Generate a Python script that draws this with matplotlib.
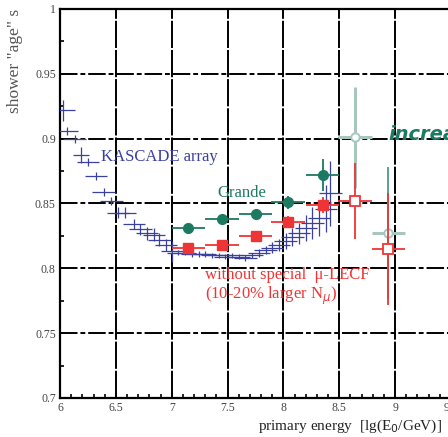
import numpy as np
import matplotlib
matplotlib.use("Agg")
import matplotlib.pyplot as plt

# KASCADE array
kas_x = [6.03, 6.06, 6.13, 6.25, 6.32, 6.39, 6.46, 6.52, 6.58, 6.66, 6.72, 6.78,
         6.84, 6.89, 6.95, 7.00, 7.06, 7.12, 7.18, 7.24, 7.30, 7.36, 7.42, 7.48,
         7.54, 7.60, 7.66, 7.72, 7.78, 7.84, 7.90, 7.96, 8.02, 8.08, 8.14, 8.20,
         8.26, 8.32, 8.38, 8.42]
kas_y = [0.922, 0.906, 0.900, 0.882, 0.871, 0.859, 0.852, 0.843, 0.843, 0.834, 0.830, 0.827,
         0.826, 0.822, 0.818, 0.813, 0.812, 0.812, 0.811, 0.811, 0.811, 0.810, 0.810, 0.809,
         0.810, 0.809, 0.808, 0.810, 0.812, 0.814, 0.816, 0.818, 0.821, 0.824, 0.827, 0.831,
         0.835, 0.839, 0.846, 0.858]
kas_yerr = [0.008, 0.003, 0.003, 0.003, 0.003, 0.003, 0.003, 0.004, 0.004, 0.004, 0.004, 0.005,
            0.005, 0.005, 0.005, 0.008, 0.002, 0.002, 0.002, 0.002, 0.002, 0.002, 0.002, 0.002,
            0.002, 0.002, 0.002, 0.002, 0.003, 0.003, 0.004, 0.005, 0.006, 0.007, 0.008, 0.010,
            0.012, 0.014, 0.018, 0.025]

# Grande
gr_x = [7.15, 7.45, 7.75, 8.04, 8.35]
gr_y = [0.831, 0.838, 0.842, 0.851, 0.872]
gr_yerr = [0.002, 0.002, 0.003, 0.005, 0.012]

# without special mu-LECF
lecf_x = [7.15, 7.45, 7.75, 8.04, 8.35]
lecf_y = [0.816, 0.818, 0.825, 0.836, 0.849]
lecf_yerr = [0.002, 0.002, 0.003, 0.004, 0.006]

# open (low statistics) points
gr_open_x = [8.64, 8.94]
gr_open_y = [0.901, 0.827]
gr_open_yerr = [0.039, 0.051]
lecf_open_x = [8.64, 8.94]
lecf_open_y = [0.852, 0.815]
lecf_open_yerr = [0.029, 0.043]

xticks = [6, 6.5, 7, 7.5, 8, 8.5, 9, 9.5]
xticklabels = ["6", "6.5", "7", "7.5", "8", "8.5", "9", "9.5"]
yticks = [0.7, 0.75, 0.8, 0.85, 0.9, 0.95, 1]
yticklabels = ["0.7", "0.75", "0.8", "0.85", "0.9", "0.95", "1"]

blue = "#3a40a0"
teal = "#1d7a62"
red = "#ee3535"
faded = "#a8c6be"

plt.rcParams["font.family"] = ["Liberation Serif", "DejaVu Serif"]

fig = plt.figure(figsize=(4.48, 4.37), dpi=100)
ax = fig.add_axes([60 / 448, 1 - 398 / 437, 391 / 448, 389 / 437])
ax.set_xlim(6, 9.5)
ax.set_ylim(0.7, 1.0)

# grid
for xv in xticks[1:-1]:
    ax.axvline(xv, color="black", lw=1.4, ls=(0, (14, 1)), zorder=1)
for yv in yticks[1:-1]:
    ax.axhline(yv, color="black", lw=1.4, ls=(0, (9, 1.5, 2.5, 1.5)), zorder=1)

kas = ax.errorbar(kas_x, kas_y, xerr=0.1, yerr=kas_yerr, fmt="none", ecolor=blue,
                  elinewidth=0.9, zorder=3)
ax.errorbar(gr_open_x[:1], gr_open_y[:1], xerr=0.15, yerr=gr_open_yerr[:1], fmt="o",
            ms=6, mfc="white", mec=faded, mew=1.4, ecolor=faded, elinewidth=2.2, zorder=2)
ax.errorbar(gr_open_x[1:], gr_open_y[1:], xerr=0.15, fmt="o",
            ms=6, mfc="white", mec=faded, mew=1.4, ecolor=faded, elinewidth=2.2, zorder=2)
ax.errorbar(gr_open_x[1:], gr_open_y[1:], yerr=gr_open_yerr[1:], fmt="none",
            ecolor="#4a9a85", elinewidth=1.3, zorder=2)
ax.errorbar(lecf_open_x, lecf_open_y, xerr=0.15, yerr=lecf_open_yerr, fmt="s",
            ms=6.5, mfc="white", mec=red, mew=1.3, ecolor=red, elinewidth=1.3, zorder=4)
ax.errorbar(gr_x, gr_y, xerr=0.15, yerr=gr_yerr, fmt="o", ms=7, color=teal,
            elinewidth=1.3, zorder=5)
ax.errorbar(lecf_x, lecf_y, xerr=0.15, yerr=lecf_yerr, fmt="s", ms=7, color=red,
            elinewidth=1.3, zorder=5)

# annotations
ax.legend([kas], ["KASCADE array"], loc="center left", bbox_to_anchor=(0.02, 0.62),
          frameon=False, handlelength=1.6, handletextpad=0.4, borderaxespad=0,
          borderpad=0, prop={"family": "Liberation Serif", "size": 12}, labelcolor=blue)
ax.text(7.41, 0.858, "Grande", color=teal, fontsize=12, va="center")
ax.text(7.3, 0.795, "without special  \u03bc-LECF", color=red, fontsize=12, va="center")
ax.text(7.3, 0.779, "(10-20% larger N$_{\\mu}$)", color=red, fontsize=12, va="center")
ax.text(8.94, 0.903, "increasing", color=teal, fontsize=14, fontweight="bold",
        fontstyle="italic", family="DejaVu Sans", va="center", zorder=6)

fig.text(15 / 448, 1 - 9 / 437, "shower \"age\" s", rotation=90, ha="center", va="top",
         fontsize=12.5, color="#555555")
fig.text(258 / 448, 1 - 426 / 437, "primary energy  [lg(E$_0$/GeV)]", ha="left",
         va="center", fontsize=11, color="#222222")

ax.set_xticks(xticks)
ax.set_xticklabels(xticklabels)
ax.set_yticks(yticks)
ax.set_yticklabels(yticklabels)
ax.set_xticks(np.arange(6, 9.51, 0.1), minor=True)
ax.set_yticks(np.arange(0.725, 1.0, 0.05), minor=True)
ax.tick_params(which="major", direction="in", length=0, labelsize=8.5, colors="#444444", pad=3)
ax.tick_params(which="minor", direction="in", length=3, width=1.2, color="black")
for s in ax.spines.values():
    s.set_linewidth(1.6)

fig.savefig("out.png", dpi=100)
